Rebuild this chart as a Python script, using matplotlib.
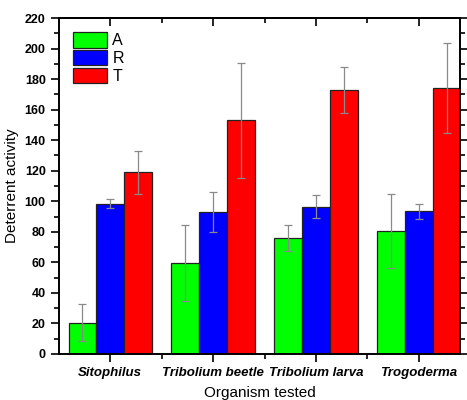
import matplotlib
matplotlib.use('Agg')
import matplotlib.pyplot as plt
import numpy as np
from matplotlib.patches import Patch

# data
organisms = ['Sitophilus', 'Tribolium beetle', 'Tribolium larva', 'Trogoderma']
series = ['A', 'R', 'T']
values_a = [20.5, 59.5, 76.0, 80.5]
values_r = [98.5, 93.0, 96.5, 93.5]
values_t = [119.0, 153.0, 173.0, 174.0]
err_a = [12.0, 25.0, 8.5, 24.0]
err_r = [3.0, 13.0, 7.5, 5.0]
err_t = [14.0, 37.5, 15.0, 29.5]
colors = ['#00ff00', '#0000ff', '#ff0000']

plt.rcParams['font.family'] = ['Liberation Sans', 'DejaVu Sans']

fig = plt.figure(figsize=(4.67, 4.0), dpi=100)
ax = fig.add_axes([0.126, 0.115, 0.859, 0.84])

x = np.arange(1, len(organisms) + 1)
width = 0.27
all_vals = [values_a, values_r, values_t]
all_errs = [err_a, err_r, err_t]
for i, (vals, errs) in enumerate(zip(all_vals, all_errs)):
    ax.bar(x + (i - 1) * width, vals, width=width, color=colors[i],
           edgecolor='#222222', linewidth=0.9, zorder=2)
    ax.errorbar(x + (i - 1) * width, vals, yerr=errs, fmt='none',
                ecolor='#8a8a8a', elinewidth=0.9, capsize=3, capthick=0.9, zorder=3)

ax.set_xlim(0.5, 4.4)
ax.set_ylim(0, 220)
ax.set_yticks(np.arange(0, 221, 20))
ax.set_yticks(np.arange(0, 221, 10), minor=True)
ax.set_xticks(x)
ax.set_xticks([1.5, 2.5, 3.5], minor=True)
ax.set_xticklabels(organisms, fontweight='bold', fontstyle='italic', fontsize=9.5)
for lab in ax.get_yticklabels():
    lab.set_fontweight('bold')
    lab.set_fontsize(9)

ax.tick_params(axis='y', which='both', direction='out', left=True, right=True, width=1.2)
ax.tick_params(axis='y', which='major', length=6)
ax.tick_params(axis='y', which='minor', length=3.5)
ax.tick_params(axis='x', which='both', direction='out', width=1.2)
ax.tick_params(axis='x', which='major', length=6)
ax.tick_params(axis='x', which='minor', length=3.5)

top = ax.secondary_xaxis('top')
top.set_xticks(x)
top.set_xticks([1.5, 2.5, 3.5], minor=True)
top.tick_params(axis='x', which='both', direction='in', labeltop=False, width=1.2)
top.tick_params(axis='x', which='major', length=6)
top.tick_params(axis='x', which='minor', length=3.5)

for sp in ax.spines.values():
    sp.set_linewidth(1.4)
top.spines['top'].set_linewidth(1.4)

ax.set_xlabel('Organism tested', fontsize=11, labelpad=5)
ax.set_ylabel('Deterrent activity', fontsize=11, labelpad=4)

handles = [Patch(facecolor=c, edgecolor='#222222', linewidth=0.9) for c in colors]
ax.legend(handles, series, loc='upper left', frameon=False, fontsize=11.5,
          handlelength=2.1, handleheight=1.1, labelspacing=0.1,
          handletextpad=0.35, borderaxespad=0.5)

plt.savefig('out.png', dpi=100)
plt.close()
